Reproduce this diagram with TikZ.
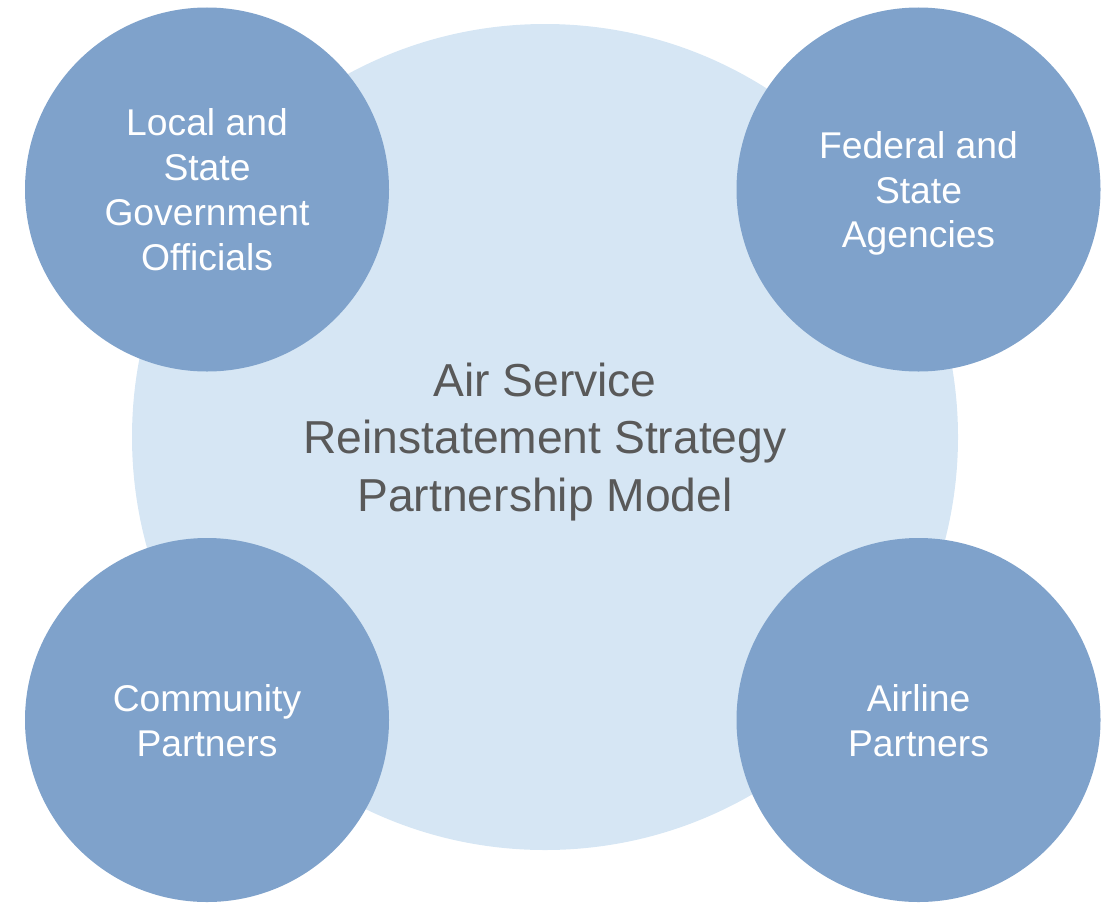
\documentclass[tikz,border=0pt]{standalone}
\usepackage{fontspec}
\setmainfont{Liberation Sans}
\definecolor{hubBlue}{HTML}{D6E6F4}
\definecolor{partnerBlue}{HTML}{7FA2CB}
\definecolor{hubText}{HTML}{595959}
\begin{document}
\begin{tikzpicture}[
    hubCircle/.style={circle, fill=hubBlue, minimum size=16.52cm, inner sep=0pt, align=center,
        text=hubText, text depth=0pt, font=\fontsize{26.3}{32.7}\selectfont},
    partnerCircle/.style={circle, fill=partnerBlue, minimum size=7.28cm, inner sep=0pt, align=center,
        text=white, text depth=0pt, font=\fontsize{21.2}{25.6}\selectfont}
]
\useasboundingbox (0,0) rectangle (22.18,-18.04);
% central model
\node[hubCircle] (hub) at (10.9,-8.74) {Air Service\\Reinstatement Strategy\\Partnership Model};

% partners around it
\node[partnerCircle] (localGov) at (4.14,-3.79) {Local and\\State\\Government\\Officials};
\node[partnerCircle] (fedAgency) at (18.37,-3.79) {Federal and\\State\\Agencies};
\node[partnerCircle] (community) at (4.14,-14.4) {Community\\Partners};
\node[partnerCircle] (airline) at (18.37,-14.4) {Airline\\Partners};
\end{tikzpicture}
\end{document}
